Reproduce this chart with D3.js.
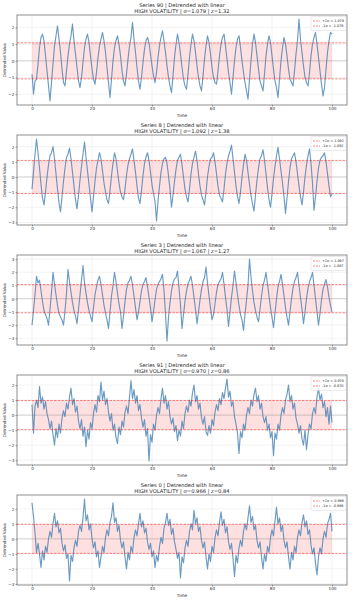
<!DOCTYPE html>
<html>
<head>
<meta charset="utf-8">
<script src="https://cdn.jsdelivr.net/npm/d3@7"></script>
<style>
  body { margin: 0; background: #fff; }
  text { font-family: "DejaVu Sans", sans-serif; }
</style>
</head>
<body>
<div id="chart-area"></div>
<script>
const seriesIds = [90, 8, 3, 91, 0]
const sigmas = [1.079, 1.092, 1.067, 0.970, 0.966]
const zScores = [1.32, 1.38, 1.27, 0.86, 0.84]
const xTicks = [0, 20, 40, 60, 80, 100]

// detrended values, one every 0.5 time units (t = 0 .. 100)
const s90 = [-0.8,-2.0,-1.2,-1.1,-0.2,0.8,1.4,1.6,1.2,0.3,-0.6,-1.5,-2.4,-1.3,-0.2,0.9,1.5,2.1,1.3,0.5,
  -0.5,-1.3,-1.5,-0.6,0.3,1.0,1.5,2.2,1.2,0.4,-0.4,-1.2,-1.6,-1.0,-0.1,0.8,1.3,1.6,1.1,0.3,
  -0.5,-1.1,-1.4,-0.7,0.2,0.9,1.3,1.7,1.2,0.5,-0.4,-1.3,-2.2,-1.1,0.0,0.8,1.2,1.5,1.0,0.3,
  -0.6,-1.2,-1.5,-0.8,0.1,0.9,1.4,2.3,1.3,0.5,-0.4,-1.2,-1.7,-1.0,-0.1,0.7,1.2,1.4,1.1,0.4,
  -0.3,-0.9,-1.3,-0.7,0.2,0.9,1.4,1.8,1.2,0.5,-0.3,-1.0,-1.5,-1.9,-0.9,0.2,1.0,1.6,1.1,0.4,
  -0.4,-1.1,-1.5,-1.7,-0.8,0.2,1.0,1.6,1.2,0.5,-0.3,-1.0,-1.5,-1.8,-0.9,0.1,0.9,1.5,1.1,0.4,
  -0.4,-1.0,-1.3,-1.4,-0.6,0.3,1.0,1.4,1.6,0.9,0.1,-0.7,-1.3,-2.0,-1.0,0.0,0.8,1.3,1.5,0.8,
  0.0,-0.7,-1.3,-1.8,-2.3,-1.1,0.0,1.0,1.6,1.1,0.3,-0.5,-1.2,-1.5,-1.8,-0.8,0.3,1.0,1.5,1.1,
  0.3,-0.5,-1.2,-1.6,-2.2,-1.1,0.0,0.8,1.4,1.0,0.3,-0.5,-1.1,-1.3,-1.5,-0.6,0.4,1.2,2.5,1.3,
  0.5,-0.3,-1.0,-1.3,-1.5,-0.7,0.3,1.0,1.4,1.7,1.0,0.2,-0.6,-1.4,-2.1,-1.6,-0.5,0.5,1.2,1.7,
  1.6]

const s8 = [-0.8,0.3,1.5,2.5,1.6,0.6,-0.5,-1.4,-1.85,-1.0,0.0,0.8,1.4,1.6,2.0,1.2,0.2,-0.8,-1.7,-2.3,
  -1.3,-0.3,0.6,1.3,1.5,1.9,1.2,0.3,-0.6,-1.5,-2.1,-1.2,-0.2,0.7,1.5,2.3,1.3,0.4,-0.5,-1.4,
  -2.3,-1.3,-0.3,0.6,1.1,1.6,1.2,0.4,-0.4,-1.0,-1.5,-1.75,-0.9,0.1,0.9,1.6,1.2,0.4,-0.4,-1.0,
  -1.3,-1.5,-0.8,0.1,0.8,1.2,1.5,1.85,1.1,0.3,-0.6,-1.4,-1.75,-0.9,0.1,0.9,1.3,1.6,1.1,0.3,
  -0.5,-1.1,-1.6,-2.9,-1.6,-0.6,0.3,0.9,1.2,1.3,0.9,0.1,-0.8,-2.0,-1.2,-0.3,0.5,1.1,1.3,1.5,
  0.8,0.0,-0.8,-1.3,-1.65,-0.8,0.2,0.9,1.3,1.7,1.1,0.2,-0.6,-1.2,-1.5,-1.85,-1.0,0.0,0.7,1.2,
  1.3,1.6,1.0,0.2,-0.6,-1.2,-1.4,-1.65,-0.8,0.2,0.9,1.4,1.7,2.1,1.2,0.3,-0.6,-1.3,-1.75,-1.0,
  0.0,0.8,1.5,1.1,0.3,-0.5,-1.2,-1.8,-2.25,-1.2,-0.2,0.6,1.2,1.4,1.8,1.1,0.2,-0.7,-1.5,-2.0,
  -1.1,-0.1,0.7,1.4,1.95,1.2,0.4,-0.4,-1.3,-2.4,-1.4,-0.3,0.6,1.2,1.4,1.6,1.0,0.2,-0.6,-1.3,
  -1.85,-1.0,0.0,0.8,1.4,1.85,0.9,-0.4,-2.2,-1.3,-0.3,0.6,1.1,1.3,1.4,1.6,1.0,0.2,-0.6,-1.3,
  -1.1]

const s3 = [-2.0,-0.9,0.3,1.7,1.2,1.4,0.6,-0.2,-0.9,-1.2,-1.5,-2.0,-0.8,0.5,2.0,1.1,0.3,-0.5,-1.1,-1.4,
  -1.6,-2.0,-0.9,0.4,2.2,1.3,0.5,-0.3,-0.9,-1.3,-1.9,-0.8,0.3,1.4,2.5,1.2,0.4,-0.3,-0.9,-1.3,
  -1.75,-0.7,0.3,0.9,1.4,1.7,1.1,0.3,-0.5,-1.1,-1.6,-2.25,-1.0,0.2,1.0,2.0,1.3,0.4,-0.4,-1.0,
  -2.25,-1.3,-0.2,0.7,1.2,1.4,1.7,1.0,0.2,-0.7,-1.6,-1.0,-0.2,0.6,1.1,1.3,1.6,0.9,0.1,-0.7,
  -1.75,-1.0,-0.1,0.7,1.1,1.3,1.5,1.85,0.6,-1.2,-3.2,-1.4,-0.3,0.6,1.2,1.5,1.6,2.1,0.8,-0.5,
  -2.25,-1.2,-0.2,0.6,1.1,1.4,1.7,1.0,0.1,-0.8,-1.9,-1.0,-0.1,0.7,1.3,1.6,2.4,1.2,0.2,-0.7,
  -1.6,-1.2,-0.4,0.5,1.1,1.3,1.5,2.0,1.1,0.1,-0.8,-2.1,-1.0,0.1,1.0,2.1,1.2,0.3,-0.5,-1.2,
  -1.6,-2.4,-1.2,-0.1,1.0,3.0,1.6,0.6,-0.3,-0.9,-1.4,-1.75,-0.8,0.2,1.0,1.4,2.0,1.1,0.2,-0.7,
  -1.4,-2.2,-1.1,0.0,0.9,1.3,1.85,1.1,0.2,-0.7,-1.4,-2.0,-1.0,0.0,0.8,1.3,1.6,2.0,1.0,0.1,
  -0.8,-1.9,-1.0,0.0,0.8,1.3,1.6,2.0,1.0,0.0,-1.0,-2.0,-1.1,-0.1,0.7,1.1,1.45,0.9,0.1,-0.5,
  -1.0]

const s91 = [0.7,-1.2,0.6,1.0,0.5,1.9,0.8,1.2,0.4,0.9,0.1,-0.3,-0.9,-0.4,-1.3,-2.0,-0.9,-1.5,-0.6,-1.2,
  -0.2,0.3,-0.1,0.8,0.4,1.2,1.8,0.7,1.1,0.2,0.6,-0.4,-0.9,-0.3,-1.4,-0.8,-2.1,-1.0,-1.6,-0.5,
  -0.9,0.1,0.7,0.2,1.3,0.9,2.2,1.0,1.6,0.7,1.1,0.2,-0.4,0.1,-1.0,-0.6,-1.5,-1.9,-0.8,-1.3,
  -0.4,-0.8,0.2,0.6,0.1,1.2,2.3,1.1,1.7,0.8,1.3,0.3,0.7,-0.2,-0.8,-0.3,-1.4,-0.9,-3.05,-1.3,
  -1.8,-0.6,-1.0,0.0,0.5,0.1,1.1,1.8,0.8,1.3,0.4,0.9,-0.1,-0.6,-0.2,-1.1,-0.7,-1.7,-1.0,-1.4,
  -0.4,-0.9,0.1,0.6,0.2,1.0,0.6,1.5,2.0,0.9,1.3,0.4,0.8,-0.2,-0.6,-0.1,-1.1,-1.35,-0.7,-1.2,
  -0.3,-0.7,0.2,0.7,0.3,1.1,0.7,1.5,1.1,1.8,2.4,1.2,1.6,0.6,0.9,-0.1,-0.6,-1.2,-2.55,-1.1,
  -1.5,-0.6,-1.0,0.0,0.5,0.1,1.0,0.6,1.4,1.8,0.9,1.3,0.4,0.8,-0.1,-0.5,-0.1,-1.0,-0.6,-1.5,
  -1.1,-2.7,-1.2,-1.6,-0.6,-1.0,0.0,0.5,0.1,1.0,1.4,2.0,0.9,1.3,0.4,0.8,-0.2,-0.6,-1.2,-0.7,
  -1.6,-2.0,-1.0,-2.3,-1.3,-0.6,-0.9,0.1,0.5,0.1,1.2,1.8,1.0,1.4,0.5,0.9,-0.1,0.5,-0.6,0.6,
  -0.5]

const s0 = [2.4,1.5,0.4,-0.9,-0.3,-1.0,-1.9,-0.8,-1.4,-0.5,-0.9,0.0,0.5,0.1,1.0,1.7,0.8,1.2,0.4,0.7,
  -0.3,-0.8,-0.4,-1.3,-1.0,-2.8,-1.1,-1.5,-0.6,-0.1,-0.5,0.5,0.9,0.5,1.4,2.65,1.2,1.6,0.6,1.0,
  0.0,-0.6,-0.2,-1.2,-0.8,-1.9,-1.2,-0.5,-0.9,0.1,0.6,0.2,1.1,1.5,2.4,1.1,1.4,0.5,0.9,-0.1,
  -0.6,-0.2,-1.2,-2.0,-0.9,-1.4,-0.5,-0.9,0.1,0.6,0.2,1.0,1.7,0.8,1.2,0.4,0.7,-0.2,-0.7,-0.3,
  -1.2,-0.8,-1.9,-1.1,-1.5,-0.5,0.1,-0.3,0.7,1.1,1.7,0.9,1.3,0.3,0.7,-0.2,-0.7,-1.3,-0.9,-2.6,
  -1.2,-1.6,-0.6,-0.1,-0.5,0.5,1.0,0.6,1.9,1.0,1.4,0.5,0.8,-0.1,-0.6,-0.2,-1.2,-2.0,-1.0,-1.5,
  -0.5,-0.9,0.1,0.6,0.2,1.1,1.8,0.9,1.3,0.4,0.8,-0.2,-0.7,-0.3,-1.3,-2.5,-1.1,-1.6,-0.6,-0.1,
  -0.5,0.5,1.0,0.6,1.4,2.2,1.1,1.5,0.6,0.9,-0.1,-0.6,-0.2,-1.2,-2.0,-1.0,-1.5,-0.5,-0.9,0.1,
  0.6,0.2,1.2,2.1,1.0,1.4,0.5,0.9,-0.1,-0.6,-0.2,-1.2,-2.0,-0.9,-1.4,-0.5,-0.9,0.1,0.6,0.2,
  1.1,1.6,0.8,1.2,0.3,0.6,-0.4,-1.0,-0.6,-1.6,-2.4,-1.2,-0.6,-1.0,0.0,0.5,0.1,1.0,1.3,1.7,
  0.5]

const allValues = [s90, s8, s3, s91, s0]

const W = 359
const H = 600
const panelH = 120
const margin = {top: 15, right: 12, bottom: 15, left: 17}
const width = W - margin.left - margin.right
const height = panelH - margin.top - margin.bottom
const ink = '#262626'

const svg = d3.select('#chart-area')
  .append('svg')
    .attr('width', W)
    .attr('height', H)
    .style('text-rendering', 'geometricPrecision')

seriesIds.forEach((id, k) => {
  const vals = allValues[k]
  const n = vals.length
  const pts = vals.map((v, i) => ({t: i * 100 / (n - 1), v: v}))
  const sigma = sigmas[k]

  const panel = svg.append('g')
    .attr('transform', `translate(0,${k * panelH})`)

  const g = panel.append('g')
    .attr('transform', `translate(${margin.left},${margin.top})`)

  const x = d3.scaleLinear().domain([-5, 105]).range([0, width])
  const [lo, hi] = d3.extent(vals)
  const pad = (hi - lo) * 0.05
  const y = d3.scaleLinear().domain([lo - pad, hi + pad]).range([height, 0])
  const yTicks = d3.range(Math.ceil(lo - pad), Math.floor(hi + pad) + 1)

  // grid
  g.append('g').selectAll('line').data(xTicks).enter().append('line')
    .attr('x1', d => x(d)).attr('x2', d => x(d))
    .attr('y1', 0).attr('y2', height)
    .attr('stroke', '#b0b0b0').attr('stroke-opacity', 0.3).attr('stroke-width', 0.5)
  g.append('g').selectAll('line').data(yTicks).enter().append('line')
    .attr('x1', 0).attr('x2', width)
    .attr('y1', d => y(d)).attr('y2', d => y(d))
    .attr('stroke', '#b0b0b0').attr('stroke-opacity', 0.3).attr('stroke-width', 0.5)

  // +-1 sigma band
  g.append('rect')
    .attr('x', x(0)).attr('width', x(100) - x(0))
    .attr('y', y(sigma)).attr('height', y(-sigma) - y(sigma))
    .attr('fill', 'red').attr('fill-opacity', 0.12)

  // zero line
  g.append('line')
    .attr('x1', 0).attr('x2', width)
    .attr('y1', y(0)).attr('y2', y(0))
    .attr('stroke', 'gray').attr('stroke-opacity', 0.5).attr('stroke-width', 0.6)

  // series
  const line = d3.line().x(d => x(d.t)).y(d => y(d.v))
  g.append('path')
    .datum(pts)
    .attr('d', line)
    .attr('fill', 'none')
    .attr('stroke', 'steelblue')
    .attr('stroke-opacity', 0.8)
    .attr('stroke-width', 1.15)
    .attr('stroke-linejoin', 'round')

  // sigma lines
  g.append('g').selectAll('line').data([sigma, -sigma]).enter().append('line')
    .attr('x1', 0).attr('x2', width)
    .attr('y1', d => y(d)).attr('y2', d => y(d))
    .attr('stroke', 'red').attr('stroke-opacity', 0.7)
    .attr('stroke-width', 0.7).attr('stroke-dasharray', '2.5,1.2')

  // axes
  const xAxis = g.append('g')
    .attr('transform', `translate(0,${height})`)
    .call(d3.axisBottom(x).tickValues(xTicks).tickSize(1.5).tickPadding(1))
  const yAxis = g.append('g')
    .call(d3.axisLeft(y).tickValues(yTicks).tickSize(1.5).tickPadding(1).tickFormat(d3.format('d')))
  ;[xAxis, yAxis].forEach(a => {
    a.select('.domain').remove()
    a.selectAll('line').attr('stroke', '#444').attr('stroke-width', 0.5)
    a.selectAll('text').attr('font-size', '4.2px').attr('fill', '#333')
      .attr('font-family', '"DejaVu Sans", sans-serif')
  })

  // frame
  g.append('rect')
    .attr('width', width).attr('height', height)
    .attr('fill', 'none').attr('stroke', '#444').attr('stroke-width', 0.6)

  // labels
  g.append('text')
    .attr('x', width / 2).attr('y', height + 11.5)
    .attr('text-anchor', 'middle').attr('font-size', '4.3px').attr('fill', ink)
    .text('Time')
  g.append('text')
    .attr('transform', `translate(-11.5,${height / 2}) rotate(-90)`)
    .attr('text-anchor', 'middle').attr('font-size', '4.1px').attr('fill', ink)
    .text('Detrended Value')

  // title
  panel.append('text')
    .attr('x', margin.left + width / 2).attr('y', 6.5)
    .attr('text-anchor', 'middle').attr('font-size', '5.2px').attr('fill', ink)
    .text(`Series ${id} | Detrended with linear`)
  panel.append('text')
    .attr('x', margin.left + width / 2).attr('y', 13)
    .attr('text-anchor', 'middle').attr('font-size', '5.2px').attr('fill', ink)
    .text(`HIGH VOLATILITY | σ=${sigma.toFixed(3)} | z=${zScores[k].toFixed(2)}`)

  // legend
  const lg = g.append('g').attr('transform', `translate(${width - 36},1.5)`)
  lg.append('rect')
    .attr('width', 35).attr('height', 14)
    .attr('rx', 1)
    .attr('fill', '#fff').attr('fill-opacity', 0.8)
    .attr('stroke', '#ccc').attr('stroke-width', 0.4)
  const entries = [`+1σ = ${sigma.toFixed(3)}`, `-1σ = ${(-sigma).toFixed(3)}`]
  entries.forEach((label, i) => {
    lg.append('line')
      .attr('x1', 2).attr('x2', 9)
      .attr('y1', 4.5 + i * 5).attr('y2', 4.5 + i * 5)
      .attr('stroke', 'red').attr('stroke-opacity', 0.7)
      .attr('stroke-width', 0.7).attr('stroke-dasharray', '2,1')
    lg.append('text')
      .attr('x', 11).attr('y', 5.8 + i * 5)
      .attr('font-size', '3.4px').attr('fill', ink)
      .text(label)
  })
})
</script>
</body>
</html>
